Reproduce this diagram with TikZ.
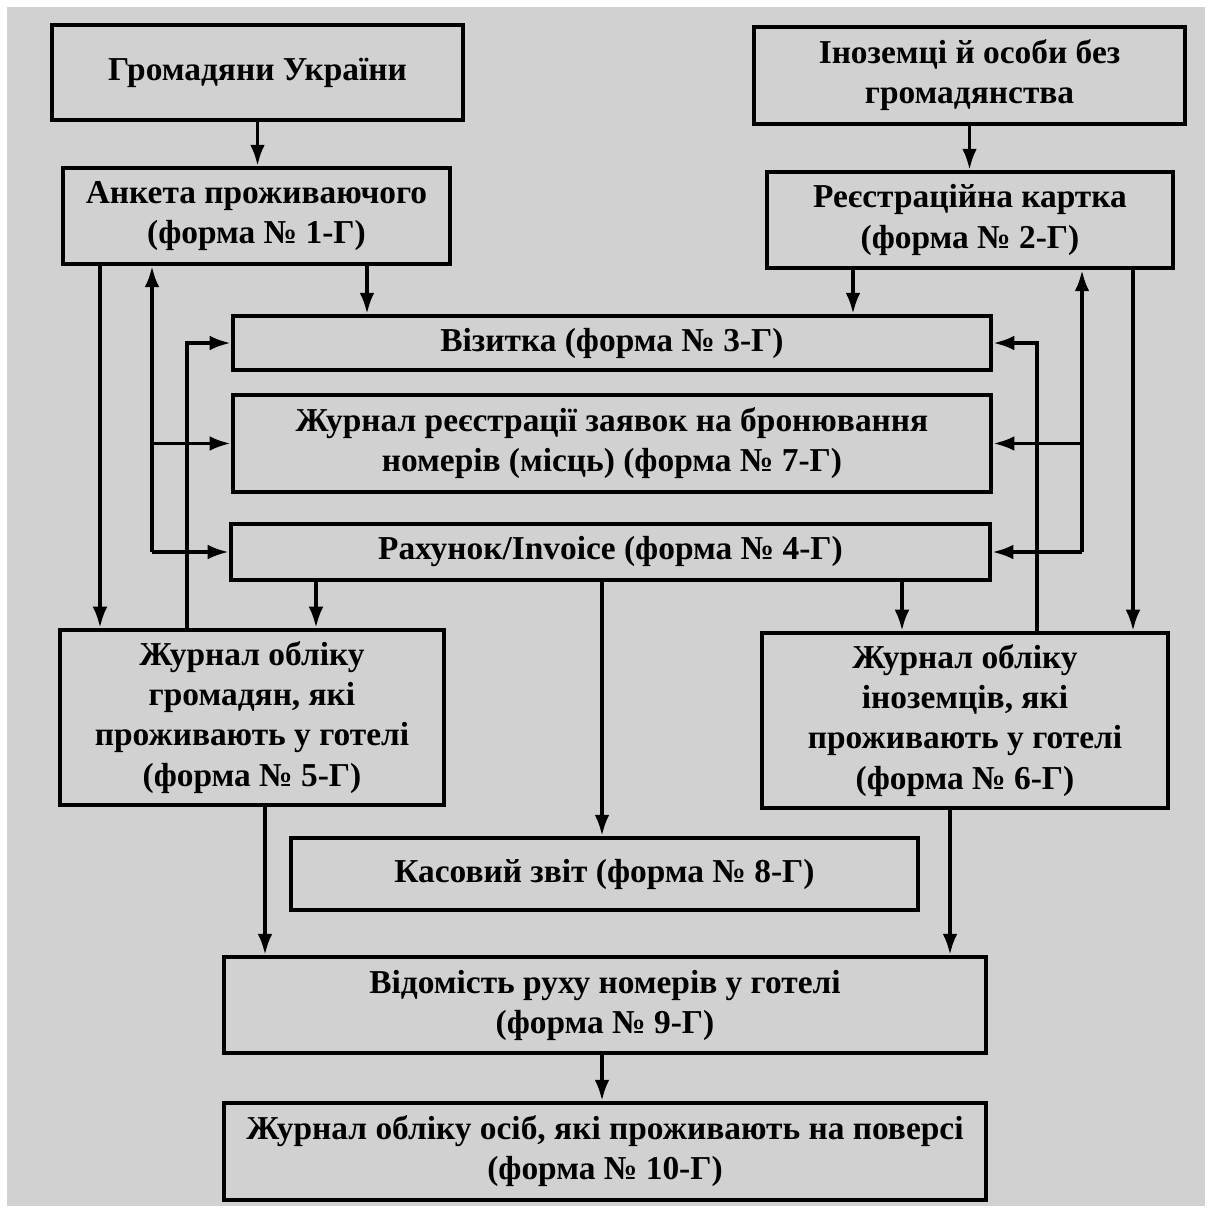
\documentclass[tikz,border=0pt]{standalone}
\usepackage{fontspec}
\setmainfont{Liberation Serif}
\usetikzlibrary{arrows.meta}
\definecolor{paper}{RGB}{209,209,209}
\begin{document}
\begin{tikzpicture}[x=0.01cm,y=-0.01cm,
    form/.style={draw=black,line width=1.2pt,fill=paper,inner sep=0pt,align=center,
      font=\fontsize{9.5}{11.4}\selectfont\bfseries},
    arr/.style={line width=1pt,-{Latex[length=6pt,width=4.2pt]}}]
      % background
      \useasboundingbox (0,0) rectangle (1211,1212);
      \fill[white] (0,0) rectangle (1211,1212);
      \fill[paper] (7,7) rectangle (1205,1206);
      % top row
      \node[form,minimum width=4.11cm,minimum height=0.95cm] at (257.5,72.5) (G) {Громадяни України};
      \node[form,minimum width=4.31cm,minimum height=0.97cm] at (969.5,75.5) (I) {Іноземці й особи без\\громадянства};
      % second row
      \node[form,minimum width=3.87cm,minimum height=0.96cm] at (256.5,216) (F1) {Анкета проживаючого\\(форма № 1-Г)};
      \node[form,minimum width=4.06cm,minimum height=0.96cm] at (970,220) (F2) {Реєстраційна картка\\(форма № 2-Г)};
      % middle column
      \node[form,minimum width=7.58cm,minimum height=0.54cm] at (612,343) (F3) {Візитка (форма № 3-Г)};
      \node[form,minimum width=7.58cm,minimum height=0.97cm] at (612,443.5) (F7) {Журнал реєстрації заявок на бронювання\\номерів (місць) (форма № 7-Г)};
      \node[form,minimum width=7.59cm,minimum height=0.56cm] at (610.5,552) (F4) {Рахунок/Invoice (форма № 4-Г)};
      % journals
      \node[form,minimum width=3.84cm,minimum height=1.75cm] at (252,717.5) (F5) {Журнал обліку\\громадян, які\\проживають у готелі\\(форма № 5-Г)};
      \node[form,minimum width=4.06cm,minimum height=1.75cm] at (965,720.5) (F6) {Журнал обліку\\іноземців, які\\проживають у готелі\\(форма № 6-Г)};
      % bottom
      \node[form,minimum width=6.27cm,minimum height=0.72cm] at (604.5,874) (F8) {Касовий звіт (форма № 8-Г)};
      \node[form,minimum width=7.62cm,minimum height=0.96cm] at (605,1005) (F9) {Відомість руху номерів у готелі\\(форма № 9-Г)};
      \node[form,minimum width=7.62cm,minimum height=0.97cm] at (605,1151.5) (F10) {Журнал обліку осіб, які проживають на поверсі\\(форма № 10-Г)};
      % line positions
      \coordinate (L1) at (100,0);
      \coordinate (L2) at (152,0);
      \coordinate (L3) at (187,0);
      \coordinate (A1) at (367,0);
      \coordinate (A4) at (316,0);
      \coordinate (A5) at (265,0);
      \coordinate (A8) at (602,0);
      \coordinate (B1) at (853,0);
      \coordinate (B4) at (902,0);
      \coordinate (B6) at (950,0);
      \coordinate (R1) at (1037,0);
      \coordinate (R2) at (1082,0);
      \coordinate (R3) at (1133,0);
      % top arrows
      \draw[arr] (G.south) -- (G.south |- F1.north);
      \draw[arr] (I.south) -- (I.south |- F2.north);
      \draw[arr] (F1.south -| A1) -- (F3.north -| A1);
      \draw[arr] (F2.south -| B1) -- (F3.north -| B1);
      % left side
      \draw[arr] (F1.south -| L1) -- (F5.north -| L1);
      \draw[arr] (F4.west -| L2) -- (F1.south -| L2);
      \draw[arr] (F7.west -| L2) -- (F7.west);
      \draw[arr] (F4.west -| L2) -- (F4.west);
      \draw[arr] (F5.north -| L3) -- (F3.west -| L3) -- (F3.west);
      % right side
      \draw[arr] (F4.east -| R2) -- (F2.south -| R2);
      \draw[arr] (F7.east -| R2) -- (F7.east);
      \draw[arr] (F4.east -| R2) -- (F4.east);
      \draw[arr] (F6.north -| R1) -- (F3.east -| R1) -- (F3.east);
      \draw[arr] (F2.south -| R3) -- (F6.north -| R3);
      % from invoice
      \draw[arr] (F4.south -| A4) -- (F5.north -| A4);
      \draw[arr] (F4.south -| A8) -- (F8.north -| A8);
      \draw[arr] (F4.south -| B4) -- (F6.north -| B4);
      % to the bottom
      \draw[arr] (F5.south -| A5) -- (F9.north -| A5);
      \draw[arr] (F6.south -| B6) -- (F9.north -| B6);
      \draw[arr] (F9.south -| A8) -- (F10.north -| A8);
\end{tikzpicture}
\end{document}
